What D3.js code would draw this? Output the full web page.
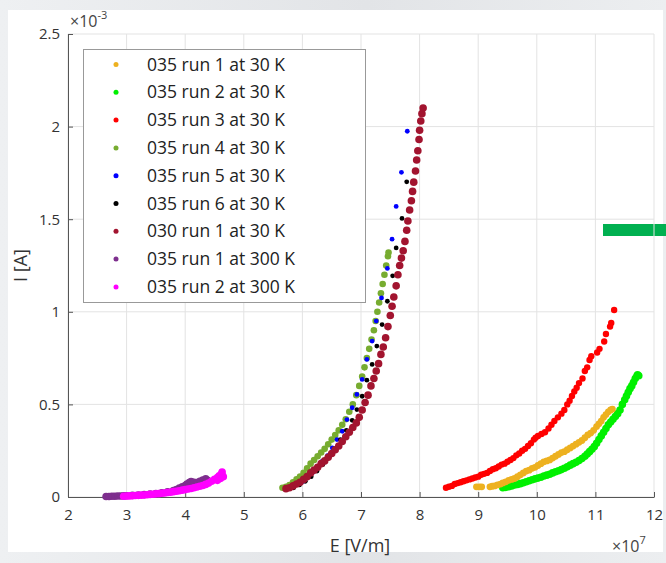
<!DOCTYPE html>
<html>
<head>
<meta charset="utf-8">
<script src="https://cdn.jsdelivr.net/npm/d3@7"></script>
<style>
  body { margin: 0; background: #e9eaed; }
  svg { display: block; }
  .tick text { font-family: "Open Sans", "Noto Sans", sans-serif; font-size: 15px; fill: #333; }
</style>
</head>
<body>
<script>
'use strict';

// E in units of 1e7 V/m, I in units of 1e-3 A
const seriesNames = [
  "035 run 1 at 30 K", "035 run 2 at 30 K", "035 run 3 at 30 K",
  "035 run 4 at 30 K", "035 run 5 at 30 K", "035 run 6 at 30 K",
  "030 run 1 at 30 K", "035 run 1 at 300 K", "035 run 2 at 300 K"
];
const seriesColors = ["#EDB120", "#00F000", "#FF0000", "#77AC30", "#0000FF", "#000000", "#A2142F", "#7E2F8E", "#FF00FF"];

const run1at30 = [[8.97,0.055],[9.02,0.055],[9.06,0.055],[9.2,0.055],[9.24,0.058],[9.28,0.06],[9.33,0.065],[9.38,0.07],[9.42,0.076],[9.47,0.082],[9.52,0.09],[9.57,0.095],[9.62,0.1],[9.67,0.11],[9.72,0.12],[9.77,0.13],[9.82,0.14],[9.87,0.145],[9.92,0.155],[9.97,0.16],[10.02,0.17],[10.07,0.18],[10.12,0.19],[10.17,0.195],[10.22,0.2],[10.27,0.21],[10.32,0.22],[10.37,0.23],[10.42,0.24],[10.47,0.245],[10.52,0.255],[10.57,0.265],[10.62,0.275],[10.67,0.285],[10.72,0.295],[10.77,0.305],[10.82,0.32],[10.87,0.335],[10.92,0.345],[10.97,0.36],[11.02,0.38],[11.06,0.395],[11.1,0.41],[11.14,0.43],[11.18,0.445],[11.22,0.46],[11.26,0.47],[11.29,0.475]];
const run2at30 = [[9.42,0.05],[9.47,0.052],[9.52,0.055],[9.57,0.06],[9.62,0.065],[9.67,0.068],[9.72,0.072],[9.77,0.077],[9.82,0.082],[9.87,0.088],[9.92,0.093],[9.97,0.098],[10.02,0.102],[10.07,0.107],[10.12,0.113],[10.17,0.118],[10.22,0.123],[10.27,0.13],[10.32,0.136],[10.37,0.142],[10.42,0.148],[10.47,0.155],[10.52,0.163],[10.57,0.172],[10.62,0.18],[10.67,0.188],[10.72,0.197],[10.77,0.208],[10.82,0.22],[10.86,0.232],[10.9,0.245],[10.94,0.258],[10.98,0.272],[11.02,0.29],[11.06,0.31],[11.1,0.33],[11.14,0.35],[11.18,0.37],[11.22,0.39],[11.26,0.405],[11.3,0.42],[11.34,0.435],[11.38,0.45],[11.42,0.47],[11.46,0.5],[11.5,0.525],[11.53,0.545],[11.56,0.565],[11.59,0.585],[11.62,0.6],[11.65,0.62],[11.68,0.64],[11.71,0.655],[11.74,0.655],[11.72,0.66]];
const run3at30 = [[8.45,0.05],[8.5,0.055],[8.55,0.06],[8.6,0.07],[8.65,0.075],[8.7,0.08],[8.75,0.085],[8.8,0.09],[8.85,0.095],[8.9,0.1],[8.95,0.105],[9.0,0.11],[9.05,0.12],[9.1,0.125],[9.15,0.13],[9.2,0.14],[9.25,0.15],[9.3,0.155],[9.35,0.165],[9.4,0.175],[9.45,0.18],[9.5,0.19],[9.55,0.2],[9.6,0.21],[9.65,0.225],[9.7,0.235],[9.75,0.25],[9.8,0.26],[9.85,0.275],[9.9,0.29],[9.95,0.31],[9.98,0.32],[10.02,0.33],[10.08,0.34],[10.14,0.35],[10.2,0.37],[10.25,0.39],[10.3,0.41],[10.36,0.43],[10.42,0.45],[10.47,0.47],[10.52,0.5],[10.56,0.52],[10.6,0.545],[10.64,0.57],[10.68,0.59],[10.72,0.615],[10.78,0.64],[10.82,0.68],[10.86,0.7],[10.9,0.74],[10.93,0.76],[11.03,0.78],[11.07,0.8],[11.15,0.84],[11.18,0.88],[11.25,0.92],[11.27,0.94],[11.32,1.01]];
const run4at30 = [[5.66,0.05],[5.72,0.055],[5.78,0.065],[5.84,0.08],[5.9,0.095],[5.96,0.11],[6.02,0.13],[6.08,0.155],[6.14,0.18],[6.2,0.2],[6.26,0.22],[6.32,0.24],[6.38,0.26],[6.44,0.285],[6.5,0.31],[6.56,0.335],[6.62,0.36],[6.68,0.39],[6.74,0.42],[6.8,0.46],[6.86,0.5],[6.92,0.55],[6.97,0.6],[7.02,0.65],[7.06,0.7],[7.1,0.75],[7.14,0.8],[7.18,0.85],[7.22,0.9],[7.25,0.95],[7.28,1.0],[7.31,1.05],[7.34,1.1],[7.37,1.15],[7.4,1.2],[7.43,1.25],[7.46,1.3],[7.47,1.32]];
const run5at30 = [[5.85,0.054],[5.93,0.067],[6.01,0.084],[6.1,0.108],[6.18,0.133],[6.27,0.16],[6.34,0.193],[6.43,0.223],[6.51,0.265],[6.59,0.31],[6.68,0.355],[6.76,0.418],[6.85,0.482],[6.93,0.554],[7.02,0.635],[7.1,0.743],[7.19,0.842],[7.26,0.95],[7.35,1.075],[7.45,1.234],[7.53,1.392],[7.6,1.569],[7.69,1.753],[7.79,1.975]];
const run6at30 = [[5.85,0.05],[5.95,0.065],[6.05,0.085],[6.15,0.11],[6.25,0.14],[6.35,0.175],[6.45,0.215],[6.55,0.26],[6.65,0.31],[6.75,0.36],[6.85,0.414],[6.93,0.472],[7.02,0.544],[7.1,0.631],[7.19,0.716],[7.27,0.815],[7.36,0.931],[7.45,1.057],[7.54,1.194],[7.6,1.345],[7.7,1.504],[7.78,1.702]];
const run030at30 = [[5.72,0.045],[5.78,0.05],[5.84,0.06],[5.9,0.07],[5.96,0.08],[6.02,0.095],[6.08,0.11],[6.14,0.13],[6.2,0.145],[6.26,0.16],[6.32,0.18],[6.38,0.195],[6.44,0.215],[6.5,0.235],[6.56,0.255],[6.62,0.275],[6.68,0.3],[6.74,0.325],[6.8,0.35],[6.86,0.375],[6.92,0.4],[6.97,0.43],[7.02,0.47],[7.07,0.51],[7.12,0.55],[7.17,0.6],[7.22,0.64],[7.26,0.68],[7.3,0.72],[7.34,0.77],[7.38,0.81],[7.42,0.86],[7.46,0.92],[7.5,0.98],[7.53,1.03],[7.56,1.08],[7.6,1.14],[7.63,1.2],[7.66,1.25],[7.69,1.29],[7.72,1.33],[7.75,1.38],[7.78,1.44],[7.8,1.49],[7.83,1.55],[7.86,1.6],[7.88,1.65],[7.9,1.7],[7.93,1.76],[7.95,1.82],[7.97,1.87],[7.99,1.93],[8.0,1.98],[8.02,2.03],[8.04,2.07],[8.06,2.1]];
const run1at300 = [[2.65,0.003],[2.7,0.003],[2.75,0.004],[2.8,0.004],[2.85,0.005],[2.9,0.005],[2.95,0.006],[3.0,0.007],[3.1,0.009],[3.2,0.011],[3.3,0.013],[3.4,0.016],[3.5,0.019],[3.6,0.023],[3.7,0.028],[3.8,0.035],[3.85,0.04],[3.9,0.048],[3.95,0.055],[4.0,0.062],[4.03,0.07],[4.07,0.078],[4.1,0.083],[4.15,0.08],[4.2,0.078],[4.25,0.085],[4.3,0.092],[4.35,0.098],[4.38,0.09]];
const run2at300 = [[2.95,0.004],[3.0,0.005],[3.05,0.006],[3.1,0.007],[3.15,0.008],[3.2,0.009],[3.25,0.01],[3.3,0.011],[3.35,0.012],[3.4,0.014],[3.45,0.015],[3.5,0.017],[3.55,0.018],[3.6,0.02],[3.65,0.022],[3.7,0.024],[3.75,0.026],[3.8,0.029],[3.85,0.031],[3.9,0.034],[3.95,0.037],[4.0,0.04],[4.05,0.043],[4.1,0.046],[4.15,0.05],[4.2,0.054],[4.25,0.058],[4.3,0.062],[4.35,0.068],[4.4,0.075],[4.45,0.085],[4.5,0.095],[4.55,0.105],[4.58,0.115],[4.62,0.125],[4.65,0.11],[4.6,0.1],[4.63,0.135],[4.55,0.09]];

const xTicks = [2, 3, 4, 5, 6, 7, 8, 9, 10, 11, 12];
const yTicks = [0, 0.5, 1, 1.5, 2, 2.5];

(function() {
  let svg = "";
  const W = 666, H = 563;
  const margin = {top: 34, right: 12, bottom: 66, left: 68};
  const width = W - margin.left - margin.right;
  const height = H - margin.top - margin.bottom;
  const font = "\"Open Sans\", \"Noto Sans\", sans-serif";

  window.onload = function() {
    svg = d3.select("body").append("svg")
      .attr("width", W)
      .attr("height", H);

    // background of the screenshot
    const grad = svg.append("defs").append("linearGradient")
      .attr("id", "bg").attr("x1", 0).attr("y1", 0).attr("x2", 1).attr("y2", 0);
    grad.append("stop").attr("offset", "0%").attr("stop-color", "#eef0f2");
    grad.append("stop").attr("offset", "55%").attr("stop-color", "#e2e4e7");
    grad.append("stop").attr("offset", "100%").attr("stop-color", "#eceef0");
    svg.append("rect").attr("width", W).attr("height", H).attr("fill", "url(#bg)");
    svg.append("rect")
      .attr("x", 8).attr("y", 10)
      .attr("width", 655).attr("height", 542)
      .attr("fill", "#ffffff");

    // green bar at right edge
    svg.append("rect")
      .attr("x", 603).attr("y", 224)
      .attr("width", 63).attr("height", 12)
      .attr("fill", "#00b050");

    makeScatter();
  };

  function makeScatter() {
    const x = d3.scaleLinear().domain([2, 12]).range([0, width]);
    const y = d3.scaleLinear().domain([0, 2.5]).range([height, 0]);

    const g = svg.append("g")
      .attr("transform", "translate(" + margin.left + "," + margin.top + ")");

    // grid
    g.append("g").selectAll("line").data(xTicks).enter().append("line")
      .attr("x1", (d) => x(d)).attr("x2", (d) => x(d))
      .attr("y1", 0).attr("y2", height)
      .style("stroke", "#e3e3e3").style("stroke-width", "1px");
    g.append("g").selectAll("line").data(yTicks).enter().append("line")
      .attr("y1", (d) => y(d)).attr("y2", (d) => y(d))
      .attr("x1", 0).attr("x2", width)
      .style("stroke", "#e3e3e3").style("stroke-width", "1px");

    // axes, ticks pointing inward
    const xAxis = d3.axisBottom(x).tickValues(xTicks).tickFormat(d3.format("d"))
      .tickSizeInner(-5).tickSizeOuter(0).tickPadding(12);
    const yAxis = d3.axisLeft(y).tickValues(yTicks).tickFormat((d) => d === 0 ? "0" : String(d))
      .tickSizeInner(-5).tickSizeOuter(0).tickPadding(8);

    const gx = g.append("g").attr("transform", "translate(0," + height + ")").call(xAxis);
    const gy = g.append("g").call(yAxis);
    [gx, gy].forEach((a) => {
      a.select(".domain").style("stroke", "#555");
      a.selectAll(".tick line").style("stroke", "#555");
    });

    // series, drawn so that the overlaps look like the original
    const allSeries = [run1at30, run2at30, run3at30, run4at30, run5at30, run6at30, run030at30, run1at300, run2at300];
    const radius = [3.4, 3.8, 3.2, 3.3, 2.4, 2.4, 3.8, 3.8, 3.8];
    const drawOrder = [1, 0, 2, 3, 4, 5, 6, 7, 8];
    drawOrder.forEach((i) => {
      g.append("g").selectAll("circle").data(allSeries[i]).enter().append("circle")
        .attr("cx", (d) => x(d[0]))
        .attr("cy", (d) => y(d[1]))
        .attr("r", radius[i])
        .style("fill", seriesColors[i]);
    });

    addLabels();
    addLegend();
  }

  function addLabels() {
    svg.append("text")
      .attr("x", 360).attr("y", 552)
      .style("text-anchor", "middle")
      .style("font-family", font).style("font-size", "18px").style("fill", "#333")
      .text("E [V/m]");

    svg.append("text")
      .attr("transform", "rotate(-90)")
      .attr("x", -(margin.top + height / 2)).attr("y", 27)
      .style("text-anchor", "middle")
      .style("font-family", font).style("font-size", "18px").style("fill", "#333")
      .text("I [A]");

    // exponent labels
    const e1 = svg.append("text").attr("x", 70).attr("y", 27)
      .style("font-family", font).style("font-size", "16px").style("fill", "#444");
    e1.append("tspan").text("×10");
    e1.append("tspan").attr("dy", -8).style("font-size", "11px").text("-3");

    const e2 = svg.append("text").attr("x", 612).attr("y", 552)
      .style("font-family", font).style("font-size", "16px").style("fill", "#444");
    e2.append("tspan").text("×10");
    e2.append("tspan").attr("dy", -8).style("font-size", "11px").text("7");
  }

  function addLegend() {
    const legend = svg.append("g").attr("class", "legend");

    legend.append("rect")
      .attr("x", 83.5).attr("y", 49.5)
      .attr("width", 282).attr("height", 253)
      .style("fill", "#ffffff")
      .style("stroke", "#999").style("stroke-width", "1px");

    seriesNames.forEach((name, i) => {
      const cy = 64.5 + i * 27.8;
      legend.append("circle")
        .attr("cx", 116).attr("cy", cy).attr("r", 2.5)
        .style("fill", seriesColors[i]);
      legend.append("text")
        .attr("x", 147).attr("y", cy)
        .attr("dy", "0.35em")
        .style("font-family", font).style("font-size", "17.5px").style("fill", "#222")
        .text(name);
    });
  }
})();
</script>
</body>
</html>
